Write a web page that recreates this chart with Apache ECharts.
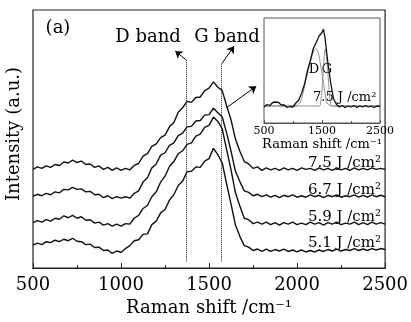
<!DOCTYPE html>
<html>
<head>
<meta charset="utf-8">
<script src="https://cdn.jsdelivr.net/npm/echarts@6/dist/echarts.min.js"></script>
<style>
html, body { margin: 0; padding: 0; background: #fff; }
#main { width: 411px; height: 322px; }
</style>
</head>
<body>
<div id="main"></div>
<script>
// Raman shift (cm-1), shared by the four main spectra
const shift = [
  500, 525, 550, 575, 600, 625, 650, 675, 700, 725,
  750, 775, 800, 825, 850, 875, 900, 925, 950, 975,
  1000, 1025, 1050, 1075, 1100, 1125, 1150, 1175, 1200, 1225,
  1250, 1275, 1300, 1325, 1350, 1375, 1400, 1425, 1450, 1475,
  1500, 1525, 1550, 1575, 1600, 1625, 1650, 1675, 1700, 1725,
  1750, 1775, 1800, 1825, 1850, 1875, 1900, 1925, 1950, 1975,
  2000, 2025, 2050, 2075, 2100, 2125, 2150, 2175, 2200, 2225,
  2250, 2275, 2300, 2325, 2350, 2375, 2400, 2425, 2450, 2475,
  2500
]

// stacked intensities (a.u., offsets included)
const i75 = [
  101, 103.5, 102, 104.5, 103, 106, 105, 108.5, 107.5, 110.5,
  108, 109.5, 106, 106.5, 103, 104.5, 101, 103, 100, 102.5,
  100, 102, 100.5, 105, 107, 114.5, 117, 124.5, 127, 133.5,
  136, 144.5, 149, 159.5, 164, 170.5, 169.5, 174.5, 175, 181.5,
  184, 190.5, 185, 181.5, 166, 151.5, 132, 119.5, 109, 106.5,
  102, 103.5, 100, 102.5, 100.5, 102, 100, 102.5, 100.5, 102,
  100, 102.5, 101, 102, 100, 102.5, 100.5, 102, 100, 102.5,
  100.5, 102, 100, 102.5, 100.5, 102, 100.5, 102.5, 101, 102,
  101
]
const i67 = [
  73.5, 75.5, 74, 76.5, 75, 78, 77, 80.5, 80, 82.5,
  80.5, 81, 78, 78.5, 75, 75.5, 72, 74, 71, 73,
  71.5, 73, 71.5, 76.5, 79, 88, 92.5, 102.5, 106.5, 115.5,
  118, 125.5, 128, 135.5, 138, 144.5, 145, 150.5, 151, 156.5,
  157, 163.5, 159, 154.5, 138, 119.5, 99, 88.5, 79, 77.5,
  74, 75.5, 73, 75, 72.5, 74.5, 72, 74.5, 73, 75,
  72.5, 74, 72.5, 75, 73, 74.5, 72, 74.5, 73, 75,
  72.5, 74, 73, 75, 72.5, 74.5, 72.5, 75, 73, 74.5,
  73
]
const i59 = [
  46.5, 48.5, 47, 49.5, 48, 51, 50, 53.5, 51.5, 54,
  51, 52.5, 49, 49.5, 46, 47, 44, 45.5, 43, 45,
  43, 45.5, 45, 51, 54, 61, 64, 73, 78, 88,
  94, 104, 109, 117, 120, 126.5, 128, 135, 137, 144,
  146, 154.5, 150, 142.5, 121, 100.5, 77, 63.5, 51, 49.5,
  45.5, 47, 45, 47, 44.5, 46.5, 44, 46.5, 45, 47,
  44.5, 46, 44.5, 47, 45, 46.5, 44, 46.5, 45, 47,
  44.5, 46, 45, 47, 44.5, 46.5, 44.5, 47, 45, 46.5,
  45
]
const i51 = [
  23.5, 25.5, 24, 27, 26, 28.5, 27, 29.5, 28, 30.5,
  27.5, 27, 24, 24.5, 21, 21.5, 18, 18.5, 15, 17.5,
  16, 20, 23, 28, 29, 34.5, 35, 44.5, 48, 56.5,
  60, 69.5, 75, 84.5, 89, 98.5, 99, 103.5, 103, 109.5,
  112, 122.5, 116, 107.5, 86, 65.5, 44, 32.5, 23, 21.5,
  18, 19.5, 17, 19.5, 17, 19, 17.5, 19.5, 17, 18.5,
  16.5, 18.5, 16.5, 18, 16.5, 18.5, 17, 19, 17.5, 19.5,
  17.5, 19, 18, 20, 18, 19.5, 18, 20, 18.5, 20,
  19
]
const fluences = ['7.5 J /cm²', '6.7 J /cm²', '5.9 J /cm²', '5.1 J /cm²']

// inset: 7.5 J/cm2 spectrum with D and G fits
const insetShift = [500, 550, 600, 650, 700, 750, 800, 850, 900, 950, 1000, 1050, 1100, 1150, 1200, 1250, 1300, 1350, 1400, 1450, 1500, 1525, 1550, 1600, 1650, 1700, 1750, 1800, 1850, 1900, 1950, 2000, 2050, 2100, 2150, 2200, 2250, 2300, 2350, 2400, 2450, 2500]
const insetRaman = [16, 18.5, 17.5, 20.5, 21, 20.5, 18, 18, 15.5, 16.5, 16, 20, 23, 30, 39, 52.5, 62.5, 74.5, 80.5, 87, 90.5, 94, 86, 61, 40, 24, 18.5, 16, 17.5, 15.5, 17, 16, 17.5, 15.5, 17, 16, 17.5, 16, 17, 15.5, 17, 16.5]
const dFitShift = [500, 1000, 1100, 1150, 1200, 1250, 1300, 1350, 1390, 1430, 1470, 1520, 1560, 1600, 1700, 2500]
const dFit = [17, 17, 19, 25, 37, 50, 62, 71, 74, 71, 60, 42, 27, 19, 17, 17]
const gFitShift = [500, 1450, 1480, 1500, 1520, 1540, 1555, 1570, 1590, 1610, 1630, 1650, 1680, 2500]
const gFit = [17, 17, 22, 33, 52, 68, 74, 70, 58, 43, 28, 20, 17, 17]

// band positions (cm-1)
const dBand = 1370
const gBand = 1572

const font = 'DejaVu Serif'
const pairs = (xs, ys) => xs.map((x, i) => [x, ys[i]])
const plain = v => String(v)

const chart = echarts.init(document.getElementById('main'))

const spectrum = (name, ys, extra) => Object.assign({
  name: name,
  type: 'line',
  data: pairs(shift, ys),
  symbol: 'none',
  lineStyle: { color: '#111', width: 1.4 },
  silent: true
}, extra || {})

const txt = (text, x, y, size, align, extra) => Object.assign({
  type: 'text',
  x: x,
  y: y,
  silent: true,
  style: {
    text: text,
    font: size + 'px "' + font + '"',
    fill: '#000',
    textAlign: align || 'center',
    textVerticalAlign: 'middle'
  }
}, extra || {})

chart.setOption({
  animation: false,
  grid: [
    { left: 33, right: 22, top: 10, bottom: 48, show: true, borderColor: '#222', borderWidth: 1.2 },
    { left: 264, top: 18, width: 116, height: 105, show: true, borderColor: '#555', borderWidth: 1 }
  ],
  xAxis: [
    {
      gridIndex: 0,
      type: 'value',
      min: 500,
      max: 2500,
      interval: 500,
      axisLine: { lineStyle: { color: '#222', width: 1.2 } },
      axisTick: { inside: true, length: 5, lineStyle: { color: '#222' } },
      minorTick: { show: true, splitNumber: 2, length: 3, lineStyle: { color: '#222' } },
      splitLine: { show: false },
      axisLabel: { color: '#000', fontFamily: font, fontSize: 18, margin: 8, formatter: plain },
      name: 'Raman shift /cm⁻¹',
      nameLocation: 'middle',
      nameGap: 28,
      nameTextStyle: { color: '#000', fontFamily: font, fontSize: 18 }
    },
    {
      gridIndex: 1,
      type: 'value',
      min: 500,
      max: 2500,
      interval: 1000,
      axisLine: { lineStyle: { color: '#555', width: 1 } },
      axisTick: { inside: true, length: 3, lineStyle: { color: '#555' } },
      minorTick: { show: true, splitNumber: 2, length: 2, lineStyle: { color: '#555' } },
      splitLine: { show: false },
      axisLabel: { color: '#000', fontFamily: font, fontSize: 11, margin: 3, formatter: plain },
      name: 'Raman shift /cm⁻¹',
      nameLocation: 'middle',
      nameGap: 15,
      nameTextStyle: { color: '#000', fontFamily: font, fontSize: 13 }
    }
  ],
  yAxis: [
    { gridIndex: 0, type: 'value', min: 0, max: 264, axisLine: { show: false }, axisTick: { show: false }, axisLabel: { show: false }, splitLine: { show: false } },
    { gridIndex: 1, type: 'value', min: 0, max: 105, axisLine: { show: false }, axisTick: { show: false }, axisLabel: { show: false }, splitLine: { show: false } }
  ],
  graphic: [
    txt('(a)', 58, 28, 18),
    txt('D band', 148, 37, 18),
    txt('G band', 227, 37, 18),
    txt('Intensity (a.u.)', 14, 134, 18, 'center', { rotation: Math.PI / 2 }),
    txt(fluences[0], 381, 163, 15, 'right'),
    txt(fluences[1], 381, 190, 15, 'right'),
    txt(fluences[2], 381, 217, 15, 'right'),
    txt(fluences[3], 381, 243, 15, 'right'),
    txt('D', 314, 70, 13),
    txt('G', 327, 70, 13),
    txt('7.5 J /cm²', 313, 98, 13, 'left')
  ],
  series: [
    spectrum(fluences[0], i75, {
      markLine: {
        silent: true,
        symbol: ['none', 'arrow'],
        symbolSize: 7,
        label: { show: false },
        lineStyle: { color: '#000', width: 1, type: 'solid' },
        data: [
          [{ coord: [dBand, 213] }, { coord: [1308, 222] }],
          [{ coord: [gBand, 209] }, { coord: [1642, 227] }],
          [{ coord: [1599, 164] }, { coord: [1768, 186] }]
        ]
      }
    }),
    spectrum(fluences[1], i67),
    spectrum(fluences[2], i59),
    spectrum(fluences[3], i51, {
      markLine: {
        silent: true,
        symbol: 'none',
        label: { show: false },
        lineStyle: { color: '#222', width: 1, type: 'dotted' },
        data: [
          [{ coord: [dBand, 7] }, { coord: [dBand, 213] }],
          [{ coord: [gBand, 7] }, { coord: [gBand, 209] }]
        ]
      }
    }),
    {
      name: 'D fit',
      type: 'line',
      xAxisIndex: 1,
      yAxisIndex: 1,
      data: pairs(dFitShift, dFit),
      smooth: true,
      symbol: 'none',
      lineStyle: { color: '#777', width: 0.8 }
    },
    {
      name: 'G fit',
      type: 'line',
      xAxisIndex: 1,
      yAxisIndex: 1,
      data: pairs(gFitShift, gFit),
      smooth: true,
      symbol: 'none',
      lineStyle: { color: '#777', width: 0.8 }
    },
    {
      name: 'inset 7.5',
      type: 'line',
      xAxisIndex: 1,
      yAxisIndex: 1,
      data: pairs(insetShift, insetRaman),
      symbol: 'none',
      lineStyle: { color: '#111', width: 1.3 }
    }
  ]
})
</script>
</body>
</html>
